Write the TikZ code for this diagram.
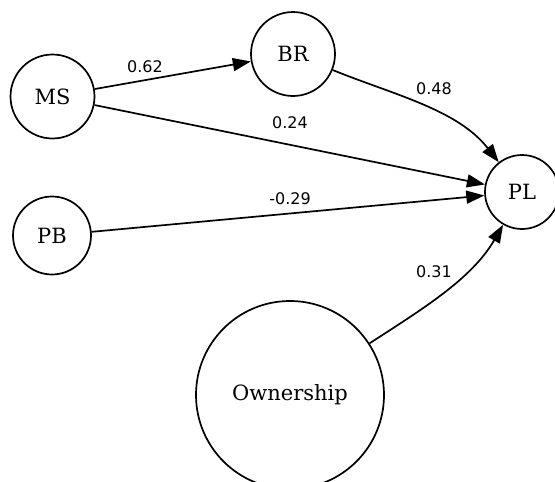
\documentclass[tikz,border=0pt]{standalone}
\usepackage{fontspec}
\setmainfont{DejaVu Serif}
\newfontfamily\edgefont{DejaVu Sans}
\usetikzlibrary{arrows.meta}
\begin{document}
\begin{tikzpicture}[x=1pt,y=1pt,
  var/.style={draw, circle, line width=1.7pt, inner sep=0pt, font=\fontsize{21}{24}\selectfont},
  lbl/.style={font=\edgefont\fontsize{16}{18}\selectfont, inner sep=0pt},
  arr/.style={line width=1.7pt, -{Triangle[length=18pt,width=13pt]}}]
\useasboundingbox (0,0) rectangle (555,-482);
\node[var, minimum size=84pt] (MS) at (52.5,-96.5) {MS};
\node[var, minimum size=84pt] (BR) at (293,-54) {BR};
\node[var, minimum size=74pt] (PL) at (522,-192) {PL};
\node[var, minimum size=78pt] (PB) at (52,-235.5) {PB};
\node[var, minimum size=188pt] (OW) at (290,-395) {Ownership};
\node[lbl] (l1) at (145,-67) {0.62};
\node[lbl] (l2) at (290,-123) {0.24};
\node[lbl] (l3) at (434,-89) {0.48};
\node[lbl] (l4) at (290,-199) {-0.29};
\node[lbl] (l5) at (434,-272) {0.31};
\draw[arr] (MS) -- (BR);
\draw[arr] (MS) -- (PL);
\draw[arr] (PB) -- (PL);
\draw[arr] (BR) to[out=-22,in=128,looseness=0.9] (PL);
\draw[arr] (OW) to[out=33,in=-120,looseness=0.9] (PL);
\end{tikzpicture}
\end{document}
